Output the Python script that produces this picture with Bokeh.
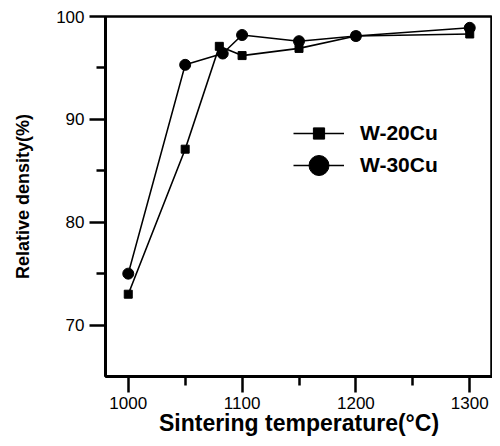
from bokeh.plotting import figure
from bokeh.models import FixedTicker, Range1d, Legend, LegendItem
from bokeh.embed import file_html
from bokeh.resources import INLINE

temp_20 = [1000, 1050, 1080, 1100, 1150, 1200, 1300]
dens_20 = [73.0, 87.1, 97.1, 96.2, 96.9, 98.1, 98.3]
temp_30 = [1000, 1050, 1083, 1100, 1150, 1200, 1300]
dens_30 = [75.0, 95.3, 96.4, 98.2, 97.6, 98.1, 98.9]
x_ticks = [1000, 1100, 1200, 1300]
x_minor = [1050, 1150, 1250]
y_ticks = [70, 80, 90, 100]
y_minor = [75, 85, 95]

p = figure(width=492, height=438, output_backend="svg", toolbar_location=None,
           x_range=Range1d(980, 1320), y_range=Range1d(65, 100),
           min_border_left=105, min_border_top=16, min_border_right=0, min_border_bottom=50)
p.grid.visible = False
p.outline_line_color = "black"
p.outline_line_width = 2.5

l1 = p.line(temp_20, dens_20, line_color="black", line_width=1.6)
m1 = p.scatter(temp_20, dens_20, marker="square", size=8, color="black")
l2 = p.line(temp_30, dens_30, line_color="black", line_width=1.6)
m2 = p.scatter(temp_30, dens_30, marker="circle", size=11, color="black")

# legend-only glyphs (hidden; legend marker size follows glyph_height)
g1 = p.scatter(temp_20, dens_20, marker="square", size=8, color="black", visible=False)
g2 = p.scatter(temp_30, dens_30, marker="circle", size=11, color="black", visible=False)
gl1 = p.line(temp_20, dens_20, line_color="black", line_width=1.6, visible=False)
gl2 = p.line(temp_30, dens_30, line_color="black", line_width=1.6, visible=False)

p.xaxis[0].ticker = FixedTicker(ticks=x_ticks, minor_ticks=x_minor)
p.yaxis[0].ticker = FixedTicker(ticks=y_ticks, minor_ticks=y_minor)

for ax in (p.xaxis[0], p.yaxis[0]):
    ax.axis_line_width = 3
    ax.axis_line_color = "black"
    ax.major_tick_line_color = "black"
    ax.minor_tick_line_color = "black"
    ax.major_tick_line_width = 2.5
    ax.minor_tick_line_width = 2.5
    ax.major_tick_out = 16
    ax.major_tick_in = 0
    ax.minor_tick_out = 9
    ax.minor_tick_in = 0
    ax.major_label_text_font = "Liberation Sans"
    ax.major_label_text_font_size = "17px"
    ax.major_label_text_color = "black"
    ax.axis_label_text_font = "Liberation Sans"
    ax.axis_label_text_font_style = "bold"
    ax.axis_label_text_color = "black"

p.xaxis[0].axis_label = "Sintering temperature(°C)"
p.yaxis[0].axis_label = "Relative density(%)"
p.xaxis[0].axis_label_text_font_size = "23px"
p.yaxis[0].axis_label_text_font_size = "18px"
p.xaxis[0].major_label_standoff = 4
p.xaxis[0].axis_label_standoff = -2
p.yaxis[0].major_label_standoff = 5
p.yaxis[0].axis_label_standoff = 20

common = dict(border_line_color=None, background_fill_alpha=0, inactive_fill_alpha=0,
              glyph_width=51, padding=0, label_standoff=16, margin=0,
              label_text_font="Liberation Sans", label_text_color="black",
              label_text_font_style="bold", label_text_font_size="21px")
legend1 = Legend(items=[LegendItem(label="W-20Cu", renderers=[gl1, g1])],
                 location=(188, 229), glyph_height=28, label_height=28, **common)
legend2 = Legend(items=[LegendItem(label="W-30Cu", renderers=[gl2, g2])],
                 location=(188, 186), glyph_height=50, label_height=50, **common)
p.add_layout(legend1)
p.add_layout(legend2)

open("out.html", "w").write(file_html(p, INLINE))
